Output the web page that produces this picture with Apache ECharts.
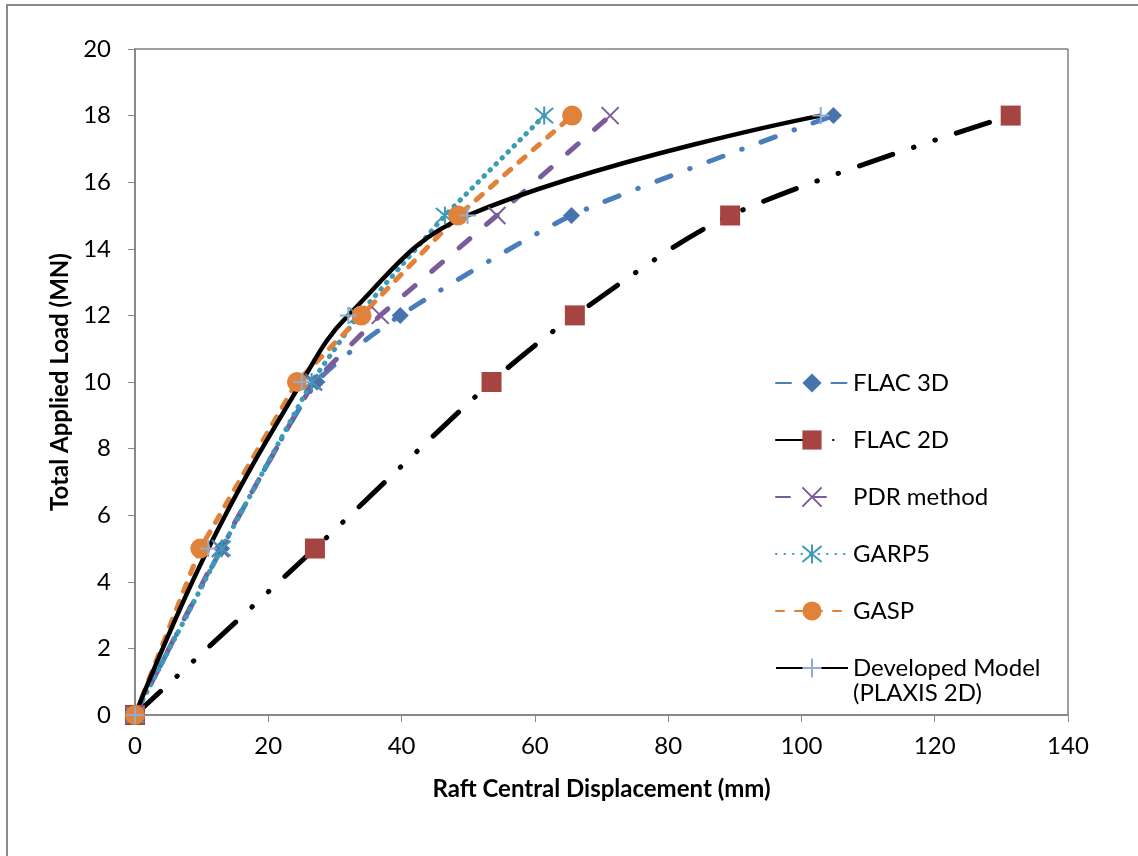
<!DOCTYPE html>
<html>
<head>
<meta charset="utf-8">
<script src="https://cdn.jsdelivr.net/npm/echarts@6/dist/echarts.min.js"></script>
<style>
  html, body { margin: 0; padding: 0; background: #fff; }
  #main { width: 1138px; height: 856px; }
</style>
</head>
<body>
<div id="main"></div>
<script>
// load steps (MN) and displacement (mm) per method
var loads = [0, 5, 10, 12, 15, 18];
var flac3d = [0, 13, 27.3, 39.8, 65.5, 104.8];
var flac2d = [0, 27, 53.5, 66, 89.3, 131.4];
var pdr = [0, 12.8, 26.8, 36.8, 54.3, 71.3];
var garp5 = [0, 13, 26.5, 33.5, 46.5, 61.4];
var gasp = [0, 9.8, 24.3, 34, 48.5, 65.6];
var developed = [0, 11, 25, 32, 49.9, 102.9];

var xTicks = [0, 20, 40, 60, 80, 100, 120, 140];
var yTicks = [0, 2, 4, 6, 8, 10, 12, 14, 16, 18, 20];

var font = 'Lato, "Open Sans", sans-serif';

function pairs(xs) {
    return xs.map(function (x, i) { return [x, loads[i]]; });
}

var myChart = echarts.init(document.getElementById('main'));

var option = {
    animation: false,
    backgroundColor: '#fff',
    textStyle: { fontFamily: font },
    graphic: [{
        type: 'rect',
        shape: { x: 7, y: 5, width: 1300, height: 1000 },
        style: { fill: 'none', stroke: '#8a8a8a', lineWidth: 2 },
        silent: true
    }, {
        type: 'text',
        left: 853, top: 681,
        style: { text: '(PLAXIS 2D)', font: '24px ' + font, fill: '#000' }
    }],
    grid: {
        left: 135, right: 70, top: 49, bottom: 141,
        show: true, borderColor: '#404040', borderWidth: 1
    },
    legend: {
        orient: 'vertical',
        left: 770, top: 366,
        itemWidth: 72, itemHeight: 24, itemGap: 33,
        textStyle: { fontSize: 24, color: '#000', fontFamily: font },
        data: ['FLAC 3D', 'FLAC 2D', 'PDR method', 'GARP5', 'GASP', 'Developed Model']
    },
    xAxis: {
        type: 'value', min: 0, max: 140, interval: 20,
        name: 'Raft Central Displacement (mm)',
        nameLocation: 'middle', nameGap: 62,
        nameTextStyle: { fontSize: 24, fontWeight: 'bold', color: '#000', fontFamily: font },
        axisLine: { onZero: false, lineStyle: { color: '#888', width: 2 } },
        axisTick: { length: 7, lineStyle: { color: '#888' } },
        axisLabel: {
            fontSize: 24, color: '#000', margin: 19,
            formatter: function (v) { return xTicks.indexOf(v) >= 0 ? v : ''; }
        },
        splitLine: { show: false }
    },
    yAxis: {
        type: 'value', min: 0, max: 20, interval: 2,
        name: 'Total Applied Load (MN)',
        nameLocation: 'middle', nameGap: 62,
        nameTextStyle: { fontSize: 24, fontWeight: 'bold', color: '#000', fontFamily: font },
        axisLine: { onZero: false, lineStyle: { color: '#888', width: 2 } },
        axisTick: { length: 7, lineStyle: { color: '#888' } },
        axisLabel: {
            fontSize: 24, color: '#000', margin: 24,
            formatter: function (v) { return yTicks.indexOf(v) >= 0 ? v : ''; }
        },
        splitLine: { show: false }
    },
    series: [{
        name: 'FLAC 3D', type: 'line', data: pairs(flac3d), clip: false, smooth: 0.2,
        symbol: 'path://M5,0L10,5L5,10L0,5Z', symbolSize: 17,
        itemStyle: { color: '#4674AC' },
        lineStyle: { color: '#4A7EBB', width: 5, cap: 'round', type: [15, 20, 0.5, 20] }
    }, {
        name: 'FLAC 2D', type: 'line', data: pairs(flac2d), clip: false, smooth: 0.3,
        symbol: 'rect', symbolSize: 20,
        itemStyle: { color: '#A64441' },
        lineStyle: { color: '#000', width: 5, cap: 'round', type: [35, 22, 0.5, 22, 0.5, 22] }
    }, {
        name: 'PDR method', type: 'line', data: pairs(pdr), clip: false,
        symbol: 'path://M0,0L10,10M10,0L0,10', symbolSize: 17,
        itemStyle: { color: 'transparent', borderColor: '#7A5C9A', borderWidth: 2 },
        lineStyle: { color: '#7A5C9A', width: 5, cap: 'round', type: [14, 22] }
    }, {
        name: 'GARP5', type: 'line', data: pairs(garp5), clip: false,
        symbol: 'path://M5,0L5,10M0.8,0.8L9.2,9.2M9.2,0.8L0.8,9.2', symbolSize: 18,
        itemStyle: { color: 'transparent', borderColor: '#3C9BB6', borderWidth: 2 },
        lineStyle: { color: '#3C9BB6', width: 5, cap: 'round', type: [0.5, 8] }
    }, {
        name: 'GASP', type: 'line', data: pairs(gasp), clip: false,
        symbol: 'circle', symbolSize: 20,
        itemStyle: { color: '#E0823A' },
        lineStyle: { color: '#E0823A', width: 5, cap: 'round', type: [8, 11] }
    }, {
        name: 'Developed Model', type: 'line', data: pairs(developed), clip: false,
        smooth: 0.4,
        symbol: 'path://M5,0L5,10M0,5L10,5', symbolSize: 17,
        itemStyle: { color: 'transparent', borderColor: '#8EACD4', borderWidth: 2 },
        lineStyle: { color: '#000', width: 4.5, type: 'solid' },
        z: 3
    }]
};

myChart.setOption(option);
window.addEventListener("resize", function () {
    myChart.resize();
});
</script>
</body>
</html>
